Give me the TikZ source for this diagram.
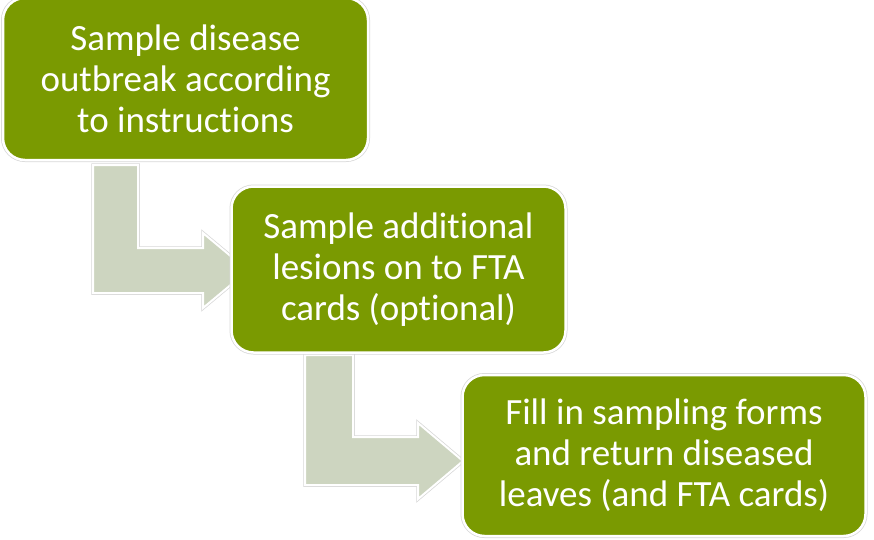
\documentclass[tikz,border=0pt]{standalone}
\usepackage{fontspec}
\setmainfont[Ligatures={NoCommon,NoRare}]{Carlito}
\definecolor{boxgreen}{RGB}{122,154,1}
\definecolor{arrowfill}{RGB}{205,213,192}
\definecolor{edgegray}{RGB}{215,215,215}
\tikzset{
  stepbox/.style={rectangle, rounded corners=22pt, fill=boxgreen, draw=white, line width=2.5pt,
    preaction={draw=edgegray, line width=4pt},
    text=white, align=center, inner sep=0pt,
    font=\fontsize{37}{41}\selectfont},
  blockarrow/.style={fill=arrowfill, draw=white, line width=2pt, line join=miter,
    preaction={draw=edgegray, line width=3.5pt}}
}
\begin{document}
\begin{tikzpicture}[x=1pt,y=-1pt]
\useasboundingbox (0,0) rectangle (874,539);
% arrows (drawn first, tips hidden behind boxes)
\coordinate (a1s) at (93,165);
\coordinate (a2s) at (305,355);
\draw[blockarrow] (a1s) -- (138,165) -- (138,248) -- (203,248) -- (203,233) -- (248,270.5)
  -- (203,308) -- (203,293) -- (93,293) -- cycle;
\draw[blockarrow] (a2s) -- (353,355) -- (353,437) -- (418,437) -- (418,423) -- (463,461)
  -- (418,499) -- (418,485) -- (305,485) -- cycle;
% boxes
\node[stepbox, minimum width=365pt, minimum height=162pt] (b1) at (185.5,79)
  {Sample disease\\outbreak according\\to instructions};
\node[stepbox, minimum width=334pt, minimum height=166pt] (b2) at (398.5,269.5)
  {Sample additional\\lesions on to FTA\\cards (optional)};
\node[stepbox, minimum width=403pt, minimum height=161pt] (b3) at (664,455.5)
  {Fill in sampling forms\\and return diseased\\leaves (and FTA cards)};
\end{tikzpicture}
\end{document}
